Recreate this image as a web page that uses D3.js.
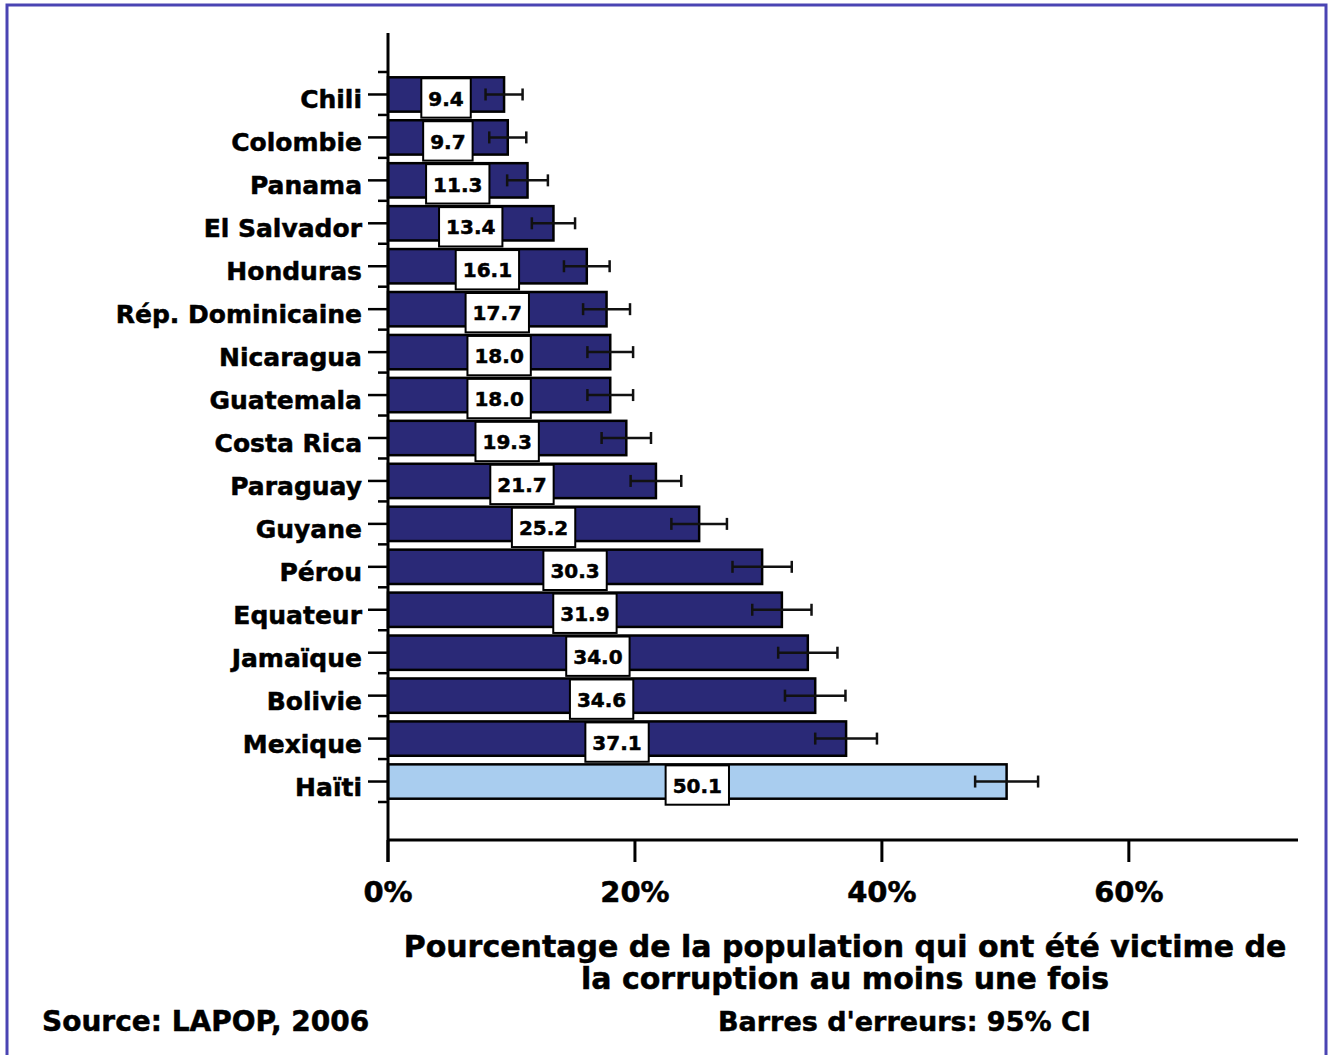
<!DOCTYPE html>
<html>
<head>
<meta charset="utf-8">
<script src="https://cdn.jsdelivr.net/npm/d3@7/dist/d3.min.js"></script>
<style>
  html, body { margin: 0; padding: 0; background: #fff; }
  svg { display: block; }
  text { font-family: "DejaVu Sans", sans-serif; font-weight: bold; fill: #000; stroke: #000; stroke-width: 0.5px; }
</style>
</head>
<body>
<svg id="chart" width="1331" height="1055"></svg>
<script>
// Victimisation par la corruption, Amériques (LAPOP 2006)
const countries = ["Chili", "Colombie", "Panama", "El Salvador", "Honduras",
  "Rép. Dominicaine", "Nicaragua", "Guatemala", "Costa Rica", "Paraguay",
  "Guyane", "Pérou", "Equateur", "Jamaïque", "Bolivie", "Mexique", "Haïti"];
const values = [9.4, 9.7, 11.3, 13.4, 16.1, 17.7, 18.0, 18.0, 19.3, 21.7,
  25.2, 30.3, 31.9, 34.0, 34.6, 37.1, 50.1];
// demi-largeur de l'intervalle de confiance à 95 %
const ciHalf = [1.5, 1.5, 1.65, 1.75, 1.85, 1.9, 1.85, 1.85, 2.0, 2.05,
  2.25, 2.4, 2.4, 2.4, 2.45, 2.5, 2.55];
const highlighted = ["Haïti"];
const xTicks = [0, 20, 40, 60];
const xMax = 73.7;

const svg = d3.select("#chart");

// cadre
svg.append("rect")
  .attr("x", 7).attr("y", 5)
  .attr("width", 1319).attr("height", 1080)
  .attr("fill", "none")
  .attr("stroke", "#4a44b3")
  .attr("stroke-width", 3);

const x = d3.scaleLinear().domain([0, xMax]).range([388, 1298]);
const y = d3.scaleBand().domain(countries).range([72, 802]).paddingInner(0.2).paddingOuter(0.1);

const plot = svg.append("g");

// barres
plot.selectAll("rect.bar")
  .data(countries)
  .join("rect")
  .attr("class", "bar")
  .attr("x", x(0))
  .attr("y", (d) => y(d) + 1)
  .attr("width", (d, i) => x(values[i]) - x(0))
  .attr("height", y.bandwidth())
  .attr("fill", (d) => highlighted.includes(d) ? "#a9cdef" : "#2a2977")
  .attr("stroke", "#000")
  .attr("stroke-width", 2.5);

// barres d'erreur
const err = plot.selectAll("g.err")
  .data(countries)
  .join("g")
  .attr("class", "err")
  .attr("transform", (d) => `translate(0,${y(d) + y.bandwidth() / 2 + 1})`);
err.append("line")
  .attr("x1", (d, i) => x(values[i] - ciHalf[i]))
  .attr("x2", (d, i) => x(values[i] + ciHalf[i]))
  .attr("stroke", "#111").attr("stroke-width", 2.5);
err.selectAll("line.cap")
  .data((d, i) => [values[i] - ciHalf[i], values[i] + ciHalf[i]])
  .join("line")
  .attr("class", "cap")
  .attr("x1", (v) => x(v)).attr("x2", (v) => x(v))
  .attr("y1", -6).attr("y2", 6)
  .attr("stroke", "#111").attr("stroke-width", 2.5);

// étiquettes de valeur
const lab = plot.selectAll("g.lab")
  .data(countries)
  .join("g")
  .attr("class", "lab")
  .attr("transform", (d, i) => `translate(${x(values[i] / 2)},${y(d) + 2})`);
lab.append("text")
  .attr("text-anchor", "middle")
  .attr("y", y.bandwidth() / 2 + 3)
  .attr("dy", "0.36em")
  .style("font-size", "20px")
  .text((d, i) => values[i].toFixed(1));
lab.each(function () {
  const g = d3.select(this);
  const w = g.select("text").node().getComputedTextLength() + 14;
  g.insert("rect", "text")
    .attr("x", -w / 2).attr("y", 0)
    .attr("width", w).attr("height", y.bandwidth() + 5)
    .attr("fill", "#fff").attr("stroke", "#000").attr("stroke-width", 2);
});

// axe vertical
const yAxis = svg.append("g").attr("transform", `translate(${x(0)},0)`);
yAxis.append("line").attr("y1", 33).attr("y2", 862).attr("stroke", "#000").attr("stroke-width", 3);
const step = y.step();
const bounds = countries.map((d) => y(d) - (step - y.bandwidth()) / 2).concat([y(countries[countries.length - 1]) + y.bandwidth() + (step - y.bandwidth()) / 2]);
yAxis.selectAll("line.minor")
  .data(bounds)
  .join("line")
  .attr("class", "minor")
  .attr("x1", -10).attr("x2", 0)
  .attr("y1", (d) => d).attr("y2", (d) => d)
  .attr("stroke", "#000").attr("stroke-width", 2.5);
yAxis.selectAll("line.major")
  .data(countries)
  .join("line")
  .attr("class", "major")
  .attr("x1", -20).attr("x2", 0)
  .attr("y1", (d) => y(d) + y.bandwidth() / 2 + 1)
  .attr("y2", (d) => y(d) + y.bandwidth() / 2 + 1)
  .attr("stroke", "#000").attr("stroke-width", 2.5);
yAxis.selectAll("text")
  .data(countries)
  .join("text")
  .attr("x", -26)
  .attr("y", (d) => y(d) + y.bandwidth() / 2 + 6)
  .attr("dy", "0.36em")
  .attr("text-anchor", "end")
  .style("font-size", "25px")
  .text((d) => d);

// axe horizontal
const xAxis = svg.append("g").attr("transform", "translate(0,840)");
xAxis.append("line").attr("x1", x(0)).attr("x2", x(xMax)).attr("stroke", "#000").attr("stroke-width", 3);
xAxis.selectAll("line.tick")
  .data(xTicks)
  .join("line")
  .attr("class", "tick")
  .attr("x1", (d) => x(d)).attr("x2", (d) => x(d))
  .attr("y1", 0).attr("y2", 22)
  .attr("stroke", "#000").attr("stroke-width", 3);
xAxis.selectAll("text")
  .data(xTicks)
  .join("text")
  .attr("x", (d) => x(d))
  .attr("y", 62)
  .attr("text-anchor", "middle")
  .style("font-size", "29px")
  .text((d) => d + "%");

// titre de l'axe
const title = svg.append("text")
  .attr("text-anchor", "middle")
  .style("font-size", "30px");
title.append("tspan").attr("x", 845).attr("y", 957).text("Pourcentage de la population qui ont été victime de");
title.append("tspan").attr("x", 845).attr("y", 989).text("la corruption au moins une fois");

// notes
svg.append("text").attr("x", 42).attr("y", 1031).style("font-size", "28px").text("Source: LAPOP, 2006");
svg.append("text").attr("x", 718).attr("y", 1031).style("font-size", "27px").text("Barres d'erreurs: 95% CI");
</script>
</body>
</html>
